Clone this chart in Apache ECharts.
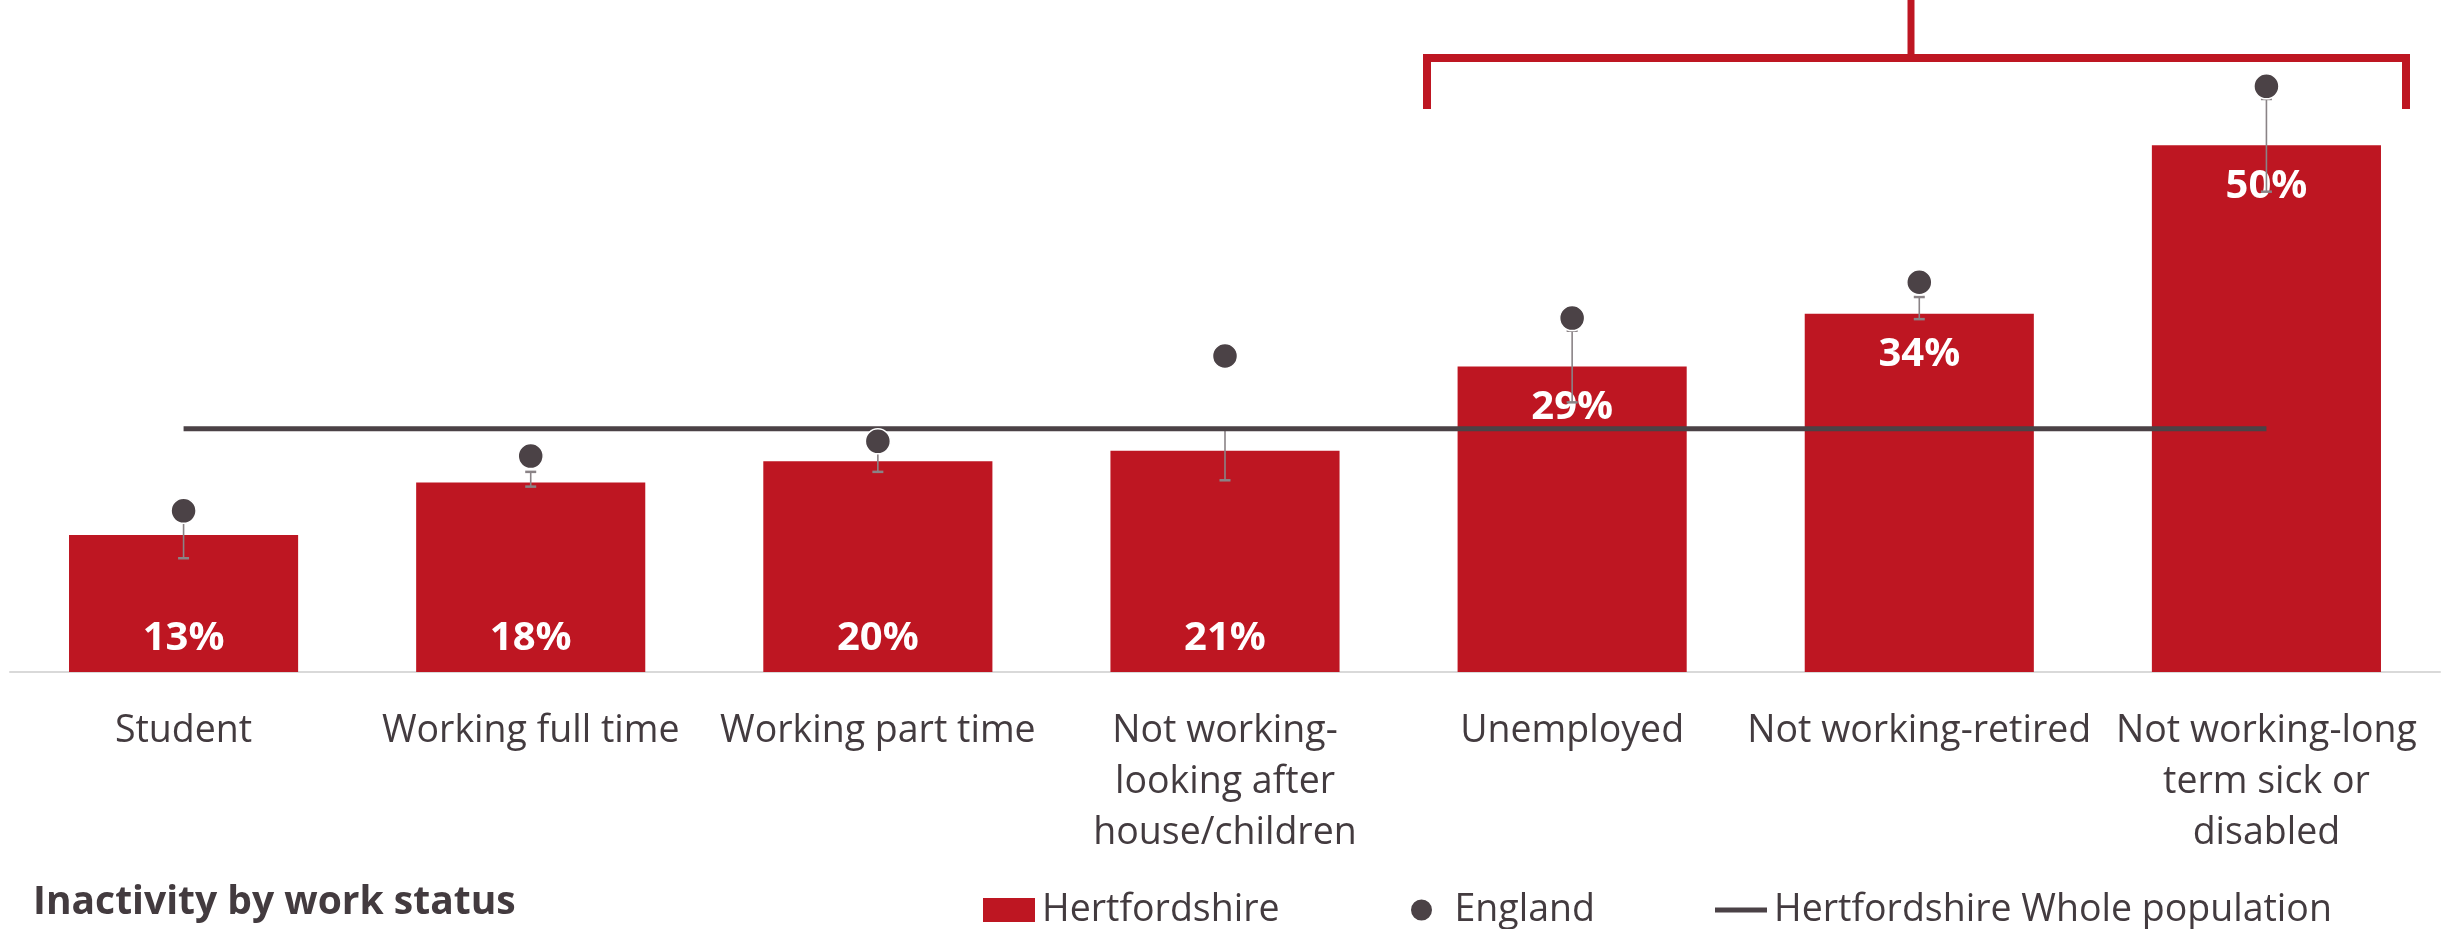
<!DOCTYPE html>
<html>
<head>
<meta charset="utf-8">
<title>Inactivity by work status</title>
<script src="https://cdn.jsdelivr.net/npm/echarts@6/dist/echarts.min.js"></script>
<style>
  html, body { margin: 0; padding: 0; background: #ffffff; }
  #chart { width: 2450px; height: 929px; }
</style>
</head>
<body>
<div id="chart"></div>
<script>
// Work status groups (x axis)
const categories = [
  'Student',
  'Working full time',
  'Working part time',
  'Not working-\nlooking after\nhouse/children',
  'Unemployed',
  'Not working-retired',
  'Not working-long\nterm sick or\ndisabled'
];

// Inactive share, Hertfordshire (%)
const hertfordshire = [13, 18, 20, 21, 29, 34, 50];
// Confidence interval around the Hertfordshire figures (%)
const hertsLower = [10.8, 17.6, 19.0, 18.2, 25.6, 33.5, 45.6];
const hertsUpper = [15.2, 19.0, 21.2, 23.0, 32.4, 35.6, 54.4];
// Inactive share, England (%)
const england = [15.3, 20.5, 21.9, 30.0, 33.6, 37.0, 55.6];
// Hertfordshire whole population (%)
const wholePopulation = [23.1, 23.1, 23.1, 23.1, 23.1, 23.1, 23.1];

const RED = '#BE1622';
const DARK = '#4B4246';
const TEXT = '#433B3F';
const FONT = '"Open Sans", "DejaVu Sans", sans-serif';

const chart = echarts.init(document.getElementById('chart'), null, { renderer: 'canvas' });

const ciData = categories.map((c, i) => [i, hertsLower[i], hertsUpper[i]]);

// Tall bars carry their value label at the top, short ones at the bottom
const barData = hertfordshire.map(v => ({
  value: v,
  label: v >= 25
    ? { position: 'insideTop', distance: 21 }
    : { position: 'insideBottom', distance: 13 }
}));

function legendBlock(name, left, icon, iconHeight) {
  return {
    show: true,
    data: [{ name: name, icon: icon }],
    left: left,
    top: 891,
    padding: 0,
    itemWidth: 52,
    itemHeight: iconHeight,
    selectedMode: false,
    textStyle: {
      fontFamily: FONT,
      fontSize: 37.5,
      color: TEXT,
      lineHeight: 24,
      padding: [0, 0, 0, 2]
    }
  };
}

chart.setOption({
  animation: false,
  backgroundColor: '#ffffff',
  grid: {
    left: 10,
    right: 10,
    top: 40,
    bottom: 257,
    containLabel: false,
    outerBoundsMode: 'none'
  },
  title: {
    text: 'Inactivity by work status',
    left: 33,
    top: 883,
    padding: 0,
    textStyle: {
      fontFamily: FONT,
      fontSize: 39,
      fontWeight: 'bold',
      color: TEXT
    }
  },
  legend: [
    legendBlock('Hertfordshire', 983, 'rect', 24),
    legendBlock('England', 1409, 'circle', 23),
    legendBlock('Hertfordshire Whole population', 1715, 'rect', 5)
  ],
  xAxis: {
    type: 'category',
    data: categories,
    axisLine: { show: true, lineStyle: { color: '#D9D9D9', width: 2 } },
    axisTick: { show: false },
    axisLabel: {
      interval: 0,
      margin: 34,
      fontFamily: FONT,
      fontSize: 37.5,
      lineHeight: 51,
      color: TEXT,
      align: 'center'
    }
  },
  yAxis: {
    type: 'value',
    min: 0,
    max: 60,
    show: false,
    splitLine: { show: false }
  },
  series: [
    {
      name: 'Hertfordshire',
      type: 'bar',
      data: barData,
      barCategoryGap: '34%',
      z: 2,
      itemStyle: { color: RED },
      label: {
        show: true,
        formatter: '{c}%',
        fontFamily: FONT,
        fontSize: 40,
        fontWeight: 'bold',
        color: '#ffffff'
      }
    },
    {
      name: 'Hertfordshire CI',
      type: 'custom',
      z: 3,
      silent: true,
      data: ciData,
      encode: { x: 0, y: [1, 2] },
      renderItem: function (params, api) {
        const x = api.value(0);
        const lo = api.coord([x, api.value(1)]);
        const hi = api.coord([x, api.value(2)]);
        const half = 5.5;
        const stroke = '#8A8386';
        return {
          type: 'group',
          children: [
            { type: 'line', shape: { x1: lo[0], y1: lo[1], x2: hi[0], y2: hi[1] }, style: { stroke: stroke, lineWidth: 1.6 } },
            { type: 'line', shape: { x1: lo[0] - half, y1: lo[1], x2: lo[0] + half, y2: lo[1] }, style: { stroke: stroke, lineWidth: 2.5 } },
            { type: 'line', shape: { x1: hi[0] - half, y1: hi[1], x2: hi[0] + half, y2: hi[1] }, style: { stroke: stroke, lineWidth: 2.5 } }
          ]
        };
      }
    },
    {
      name: 'Hertfordshire Whole population',
      type: 'line',
      data: wholePopulation,
      z: 4,
      symbol: 'none',
      lineStyle: { color: DARK, width: 5 },
      itemStyle: { color: DARK }
    },
    {
      name: 'England',
      type: 'scatter',
      data: england,
      z: 5,
      symbol: 'circle',
      symbolSize: 25,
      itemStyle: { color: DARK, opacity: 1, borderColor: '#ffffff', borderWidth: 1.5 }
    }
  ],
  graphic: [
    {
      type: 'polyline',
      silent: true,
      shape: { points: [[1427, 109], [1427, 58], [2406, 58], [2406, 109]] },
      style: { stroke: RED, lineWidth: 8, fill: null, lineJoin: 'miter' }
    },
    {
      type: 'line',
      silent: true,
      shape: { x1: 1911, y1: 0, x2: 1911, y2: 58 },
      style: { stroke: RED, lineWidth: 7 }
    }
  ]
});
</script>
</body>
</html>
